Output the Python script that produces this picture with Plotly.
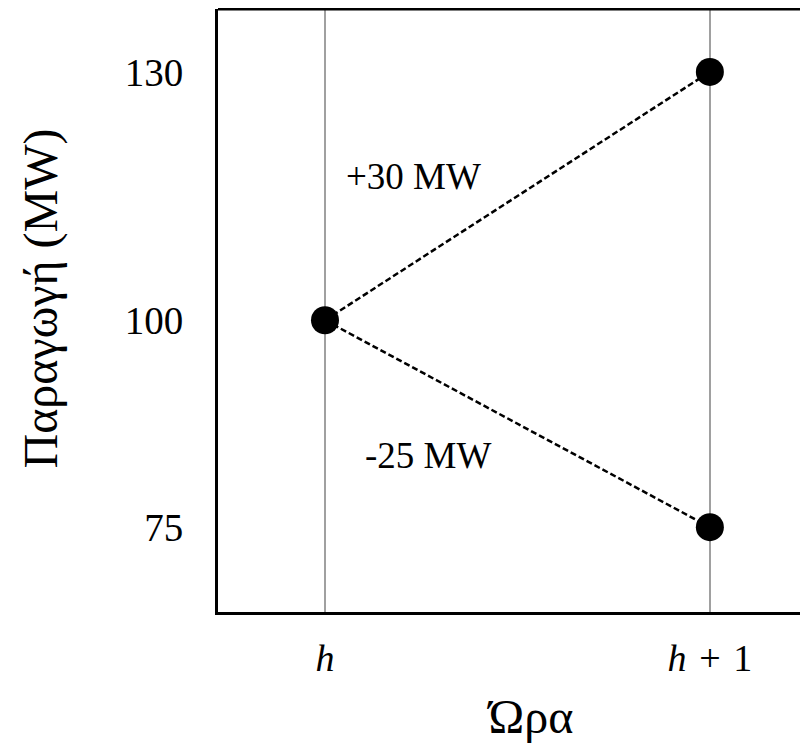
import plotly.graph_objects as go

hours = ["h", "h + 1"]
hour_pos = [0, 1]
start_mw = [100]
up_mw = [130]
down_mw = [75]
labels = ["+30 MW", "-25 MW"]
label_x = [0.229, 0.267]
label_y = [117.4, 83.6]
y_ticks = [75, 100, 130]

fig = go.Figure()
# upward ramp
fig.add_trace(go.Scatter(x=hour_pos, y=[start_mw[0], up_mw[0]], mode="lines",
                         line=dict(color="black", width=2.5, dash="6px,3px"), showlegend=False))
# downward ramp
fig.add_trace(go.Scatter(x=hour_pos, y=[start_mw[0], down_mw[0]], mode="lines",
                         line=dict(color="black", width=2.5, dash="6px,3px"), showlegend=False))
# points
fig.add_trace(go.Scatter(x=[hour_pos[0], hour_pos[1], hour_pos[1]],
                         y=[start_mw[0], up_mw[0], down_mw[0]], mode="markers",
                         marker=dict(color="black", size=28), showlegend=False))

for t, x, y in zip(labels, label_x, label_y):
    fig.add_annotation(x=x, y=y, text=t, showarrow=False,
                       font=dict(family="Liberation Serif", size=37, color="black"))

# top border (right side runs off the picture)
fig.add_shape(type="line", xref="paper", yref="paper", x0=0, x1=1, y0=1, y1=1,
              line=dict(color="black", width=3))

fig.update_layout(
    width=800, height=735,
    margin=dict(l=210, r=0, t=1, b=131),
    plot_bgcolor="white", paper_bgcolor="white",
    font=dict(family="Liberation Serif", color="black"),
    xaxis=dict(
        range=[-0.278, 1.255], tickvals=hour_pos,
        ticktext=["<i>h</i>", "<i>h</i>\u2004+\u20041"],
        tickfont=dict(size=38), ticks="", ticklabelstandoff=10,
        showgrid=True, gridcolor="#a0a0a0", gridwidth=1.5,
        showline=True, linecolor="black", linewidth=3, zeroline=False,
        title=dict(text="\u200b\u00a0\u00a0\u00a0Ώρα", font=dict(size=48), standoff=23),
    ),
    yaxis=dict(
        range=[64.75, 137.6], tickvals=y_ticks,
        tickfont=dict(size=39), ticks="", ticklabelstandoff=24,
        showgrid=False, showline=True, linecolor="black", linewidth=3, zeroline=False,
        title=dict(text="\u200b\u00a0\u00a0Παραγωγή (MW)", font=dict(size=48), standoff=52),
    ),
)

fig.write_html("out.html")
